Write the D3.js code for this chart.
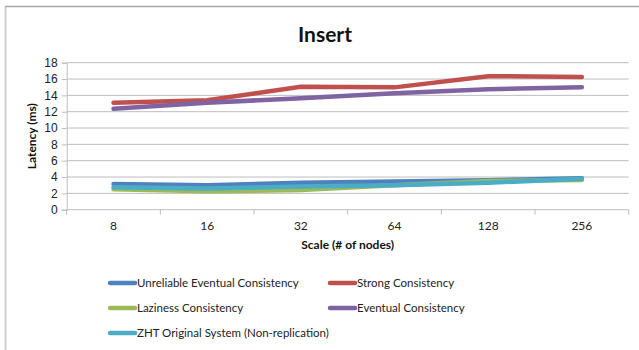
<!DOCTYPE html>
<html>
<head>
<meta charset="utf-8">
<script src="https://cdn.jsdelivr.net/npm/d3@7"></script>
<style>
  html, body { margin: 0; padding: 0; background: #fff; }
  svg { display: block; font-family: Lato, "Open Sans", sans-serif; }
</style>
</head>
<body>
<svg id="chart" width="639" height="350"></svg>
<script>
// Insert latency per cluster size
const categories = ["8", "16", "32", "64", "128", "256"];
const yTicks = [0, 2, 4, 6, 8, 10, 12, 14, 16, 18];

const unreliableEventual = [3.15, 3.0, 3.3, 3.45, 3.6, 3.85];
const strongConsistency = [13.1, 13.4, 15.05, 14.98, 16.35, 16.25];
const lazinessConsistency = [2.5, 2.25, 2.4, 3.0, 3.5, 3.65];
const eventualConsistency = [12.35, 13.1, 13.65, 14.25, 14.75, 15.0];
const zhtOriginal = [2.75, 2.6, 2.85, 3.0, 3.3, 3.8];

const seriesNames = [
  "Unreliable Eventual Consistency",
  "Strong Consistency",
  "Laziness Consistency",
  "Eventual Consistency",
  "ZHT Original System (Non-replication)"
];
const seriesColors = ["#4f81bd", "#c0504d", "#9bbb59", "#8064a2", "#4bacc6"];
const seriesValues = [unreliableEventual, strongConsistency, lazinessConsistency, eventualConsistency, zhtOriginal];

const series = seriesNames.map((name, i) => ({ name, color: seriesColors[i], values: seriesValues[i] }));

const svg = d3.select("#chart");

// outer frame (left and top edges)
svg.append("line").attr("x1", 5.5).attr("x2", 5.5).attr("y1", 6).attr("y2", 350)
  .attr("stroke", "#cfcfcf").attr("stroke-width", 2);
svg.append("line").attr("x1", 5).attr("x2", 639).attr("y1", 6.5).attr("y2", 6.5)
  .attr("stroke", "#a8a8a8").attr("stroke-width", 1.5);

const plot = { left: 66.7, right: 628.7, top: 62.7, bottom: 209.7 };

const x = d3.scaleBand().domain(categories).range([plot.left, plot.right]);
const y = d3.scaleLinear().domain([0, 18]).range([plot.bottom, plot.top]);

// horizontal gridlines
svg.append("g")
  .selectAll("line")
  .data(yTicks.filter(t => t > 0))
  .join("line")
  .attr("x1", plot.left).attr("x2", plot.right)
  .attr("y1", d => y(d)).attr("y2", d => y(d))
  .attr("stroke", "#bdbdbd").attr("stroke-width", 1);

// y axis
const yAxis = svg.append("g")
  .attr("transform", `translate(${plot.left},0)`)
  .call(d3.axisLeft(y).tickValues(yTicks).tickSize(5).tickPadding(4));
yAxis.select(".domain").attr("stroke", "#bdbdbd");
yAxis.selectAll(".tick line").attr("stroke", "#bdbdbd");
yAxis.selectAll("text").attr("font-size", 12).attr("fill", "#222");

// x axis with ticks between categories
const xAxisG = svg.append("g").attr("transform", `translate(0,${plot.bottom})`);
xAxisG.append("line").attr("x1", plot.left).attr("x2", plot.right)
  .attr("y1", 0).attr("y2", 0).attr("stroke", "#bdbdbd");
const boundaries = categories.map(c => x(c)).concat([x(categories[categories.length - 1]) + x.bandwidth()]);
xAxisG.selectAll("line.tk").data(boundaries).join("line").attr("class", "tk")
  .attr("x1", d => d).attr("x2", d => d).attr("y1", 0).attr("y2", 5)
  .attr("stroke", "#bdbdbd");
xAxisG.selectAll("text").data(categories).join("text")
  .attr("x", d => x(d) + x.bandwidth() / 2).attr("y", 20)
  .attr("text-anchor", "middle").attr("font-size", 12).attr("fill", "#222")
  .text(d => d);

// axis titles
svg.append("text")
  .attr("x", (plot.left + plot.right) / 2).attr("y", 249)
  .attr("text-anchor", "middle").attr("font-size", 12).attr("font-weight", "bold")
  .attr("fill", "#111").text("Scale (# of nodes)");
svg.append("text")
  .attr("transform", `translate(36,${(plot.top + plot.bottom) / 2}) rotate(-90)`)
  .attr("text-anchor", "middle").attr("font-size", 12).attr("font-weight", "bold")
  .attr("fill", "#111").text("Latency (ms)");

// title
svg.append("text")
  .attr("x", 325).attr("y", 42).attr("text-anchor", "middle")
  .attr("font-size", 21).attr("font-weight", "bold").attr("fill", "#111")
  .text("Insert");

// series lines
const line = d3.line()
  .x((d, i) => x(categories[i]) + x.bandwidth() / 2)
  .y(d => y(d));

svg.append("g")
  .selectAll("path")
  .data(series)
  .join("path")
  .attr("d", d => line(d.values))
  .attr("fill", "none")
  .attr("stroke", d => d.color)
  .attr("stroke-width", 4.5)
  .attr("stroke-linecap", "round")
  .attr("stroke-linejoin", "round");

// legend
const legendPos = [
  { x: 110, y: 283 }, { x: 330, y: 283 },
  { x: 110, y: 308 }, { x: 330, y: 308 },
  { x: 110, y: 333 }
];
const legend = svg.append("g")
  .selectAll("g")
  .data(series)
  .join("g")
  .attr("transform", (d, i) => `translate(${legendPos[i].x},${legendPos[i].y})`);
legend.append("line")
  .attr("x1", 0).attr("x2", 25).attr("y1", 0).attr("y2", 0)
  .attr("stroke", d => d.color).attr("stroke-width", 4.5).attr("stroke-linecap", "round");
legend.append("text")
  .attr("x", 27).attr("y", 4)
  .attr("font-size", 11.5).attr("fill", "#222")
  .text(d => d.name);
</script>
</body>
</html>
